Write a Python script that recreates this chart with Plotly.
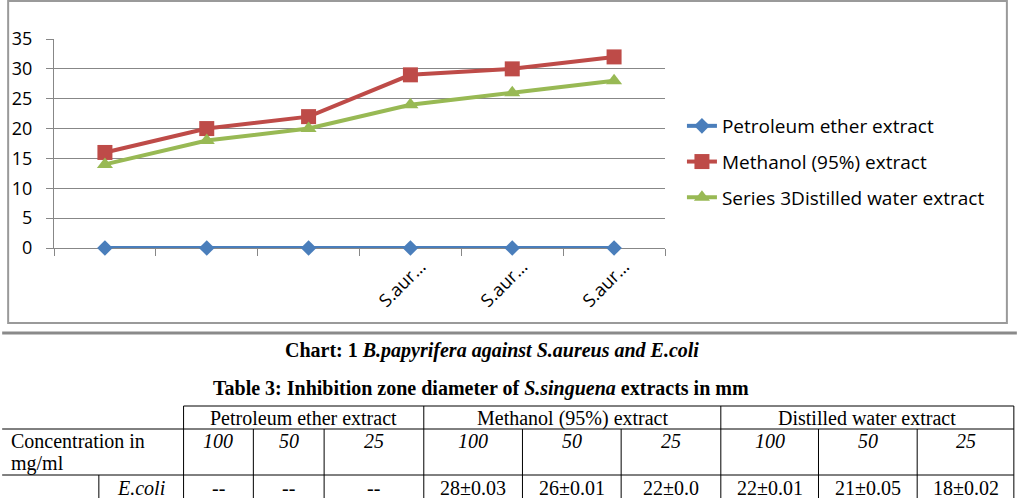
import plotly.graph_objects as go

# ---------------- data ----------------
x_pos = [1, 2, 3, 4, 5, 6]
x_labels = ["", "", "", "S.aur…", "S.aur…", "S.aur…"]
petroleum = [0, 0, 0, 0, 0, 0]
methanol = [16, 20, 22, 29, 30, 32]
water = [14, 18, 20, 24, 26, 28]
series_names = ["Petroleum ether extract", "Methanol (95%) extract",
                "Series 3Distilled water extract"]

caption = "<b>Chart: 1 <i>B.papyrifera against S.aureus and E.coli</i></b>"
table_title = "<b>Table 3: Inhibition zone diameter of <i>S.singuena</i> extracts in mm</b>"
table_groups = ["Petroleum ether extract", "Methanol (95%) extract", "Distilled water extract"]
concentrations = ["100", "50", "25", "100", "50", "25", "100", "50", "25"]
row_label = "E.coli"
row_values = ["--", "--", "--", "28±0.03", "26±0.01", "22±0.0", "22±0.01", "21±0.05", "18±0.02"]

# ---------------- layout geometry (pixels) ----------------
W, H = 1018, 498
L, R, T, B = 52, 665, 39, 248


def px(x):
    return (x - L) / (R - L)


def py(y):
    return (B - y) / (B - T)


BLUE, RED, GREEN = "#4A7EBB", "#BE4B48", "#98B954"
GRID = "#878787"
SANS = "Open Sans"
SERIF = "Liberation Serif"

fig = go.Figure()
fig.add_trace(go.Scatter(x=x_pos, y=petroleum, name=series_names[0], mode="lines+markers",
                         line=dict(color=BLUE, width=4), legendgroup="a", cliponaxis=False,
                         marker=dict(symbol="diamond", size=12, color=BLUE)))
fig.add_trace(go.Scatter(x=x_pos, y=methanol, name=series_names[1], mode="lines+markers",
                         line=dict(color=RED, width=4), legendgroup="b", cliponaxis=False,
                         marker=dict(symbol="square", size=15, color=RED)))
fig.add_trace(go.Scatter(x=x_pos, y=water, name=series_names[2], mode="lines+markers",
                         line=dict(color=GREEN, width=4), legendgroup="c", cliponaxis=False,
                         marker=dict(symbol="triangle-up", size=14, color=GREEN)))

fig.update_layout(
    width=W, height=H,
    margin=dict(l=L, r=W - R, t=T, b=H - B, pad=0),
    paper_bgcolor="white", plot_bgcolor="white",
    font=dict(family=SANS, size=18, color="#000000"),
    showlegend=True,
    legend=dict(x=px(682), y=py(107), xanchor="left", yanchor="top",
                font=dict(family=SANS, size=19, color="#000000"),
                tracegroupgap=8, bgcolor="rgba(0,0,0,0)"),
    xaxis=dict(range=[0.5, 6.5], tickmode="array", tickvals=x_pos, ticktext=x_labels,
               tickangle=-45, ticks="", showgrid=False, zeroline=False,
               showline=True, linecolor=GRID, linewidth=1, layer="below traces",
               ticklabelshift=10,
               tickfont=dict(family=SANS, size=18, color="#000000"),
               minor=dict(tickmode="array", tickvals=[0.5, 1.5, 2.5, 3.5, 4.5, 5.5, 6.5],
                          ticks="outside", ticklen=7, tickcolor=GRID, tickwidth=1,
                          showgrid=False)),
    yaxis=dict(range=[0, 35], tick0=0, dtick=5, ticks="outside", ticklen=7,
               tickcolor=GRID, showgrid=True, gridcolor=GRID, gridwidth=1,
               zeroline=False, showline=True, linecolor=GRID, linewidth=1,
               ticklabelstandoff=10, layer="below traces",
               tickfont=dict(family=SANS, size=18, color="#000000")),
)

shapes = []
# chart frame
shapes.append(dict(type="rect", xref="paper", yref="paper",
                   x0=px(6), x1=px(1008), y0=py(323), y1=py(1),
                   line=dict(color="#9A9A9A", width=2), layer="below"))
# full width separator
shapes.append(dict(type="line", xref="paper", yref="paper",
                   x0=px(0), x1=px(W), y0=py(333), y1=py(333),
                   line=dict(color="#8A8A8A", width=3)))

# table geometry
col_edges = [182, 252, 323, 423, 522, 621, 721, 819, 918, 1015]
group_edges = [182, 423, 721, 1015]
row_top, row1_bot, row2_bot, row_end = 406, 429, 475, 498
label_split = 97


def hline(x0, x1, y):
    shapes.append(dict(type="line", xref="paper", yref="paper", x0=px(x0), x1=px(x1),
                       y0=py(y), y1=py(y), line=dict(color="#000000", width=1)))


def vline(x, y0, y1):
    shapes.append(dict(type="line", xref="paper", yref="paper", x0=px(x), x1=px(x),
                       y0=py(y0), y1=py(y1), line=dict(color="#000000", width=1)))


hline(group_edges[0], group_edges[-1], row_top)
hline(0, col_edges[-1], row1_bot)
hline(0, col_edges[-1], row2_bot)
for g in group_edges:
    vline(g, row_top, row_end)
for c in col_edges:
    if c not in group_edges:
        vline(c, row1_bot, row_end)
vline(label_split, row2_bot, row_end)

annotations = []


def text(x, y, s, size=20, xanchor="center", yanchor="middle", family=SERIF):
    annotations.append(dict(xref="paper", yref="paper", x=px(x), y=py(y), text=s,
                            showarrow=False, xanchor=xanchor, yanchor=yanchor,
                            font=dict(family=family, size=size, color="#000000")))


text(491, 350, caption, size=20)
text(480, 388, table_title, size=20)
for i, g in enumerate(table_groups):
    text((group_edges[i] + group_edges[i + 1]) / 2, 418, g)
text(7, 441, "Concentration in", xanchor="left")
text(7, 463, "mg/ml", xanchor="left")
for i, c in enumerate(concentrations):
    text((col_edges[i] + col_edges[i + 1]) / 2, 441, "<i>" + c + "</i>")
text((label_split + col_edges[0]) / 2, 488, "<i>" + row_label + "</i>")
for i, v in enumerate(row_values):
    text((col_edges[i] + col_edges[i + 1]) / 2, 488, v)

fig.update_layout(shapes=shapes, annotations=annotations)
fig.write_html("out.html")
